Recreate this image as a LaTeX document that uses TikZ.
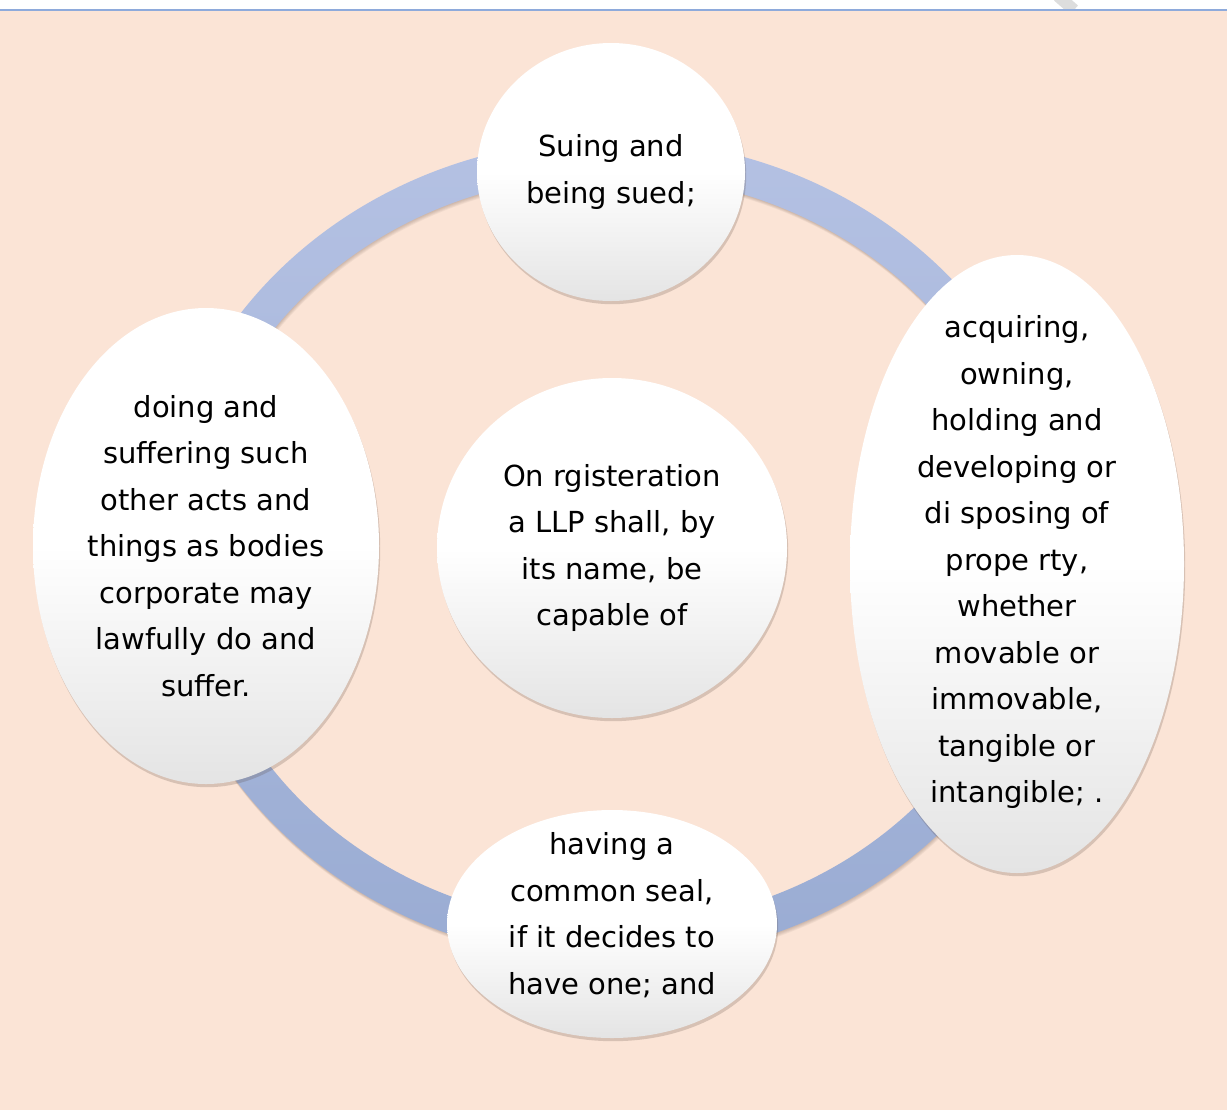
\documentclass[tikz,border=0pt]{standalone}
\usepackage{fontspec}
\setmainfont{DejaVu Sans}
\usetikzlibrary{shapes.geometric, shadows}
\definecolor{peachbg}{RGB}{251, 228, 214}
\definecolor{ringtop}{RGB}{180, 193, 227}
\definecolor{ringbottom}{RGB}{154, 172, 211}
\definecolor{topline}{RGB}{142, 170, 219}
\definecolor{cornergray}{RGB}{221, 221, 221}
\definecolor{bubblebottom}{RGB}{228, 228, 228}
\definecolor{shadowbrown}{RGB}{90, 70, 60}

\begin{document}
\begin{tikzpicture}[x=0.5pt, y=-0.5pt,
    bubble/.style={ellipse, inner sep=0pt, top color=white, bottom color=bubblebottom, middle color=white,
        drop shadow={shadow xshift=0.6pt, shadow yshift=-1.6pt, opacity=0.22, fill=shadowbrown}},
    bubbletext/.style={align=center, inner sep=0pt, font=\fontsize{14.5}{23.25}\selectfont}]
        \useasboundingbox (0, 0) rectangle (1227, 1110);

        % Page
        \fill[white] (0, 0) rectangle (1227, 10);
        \draw[cornergray, line width=6pt] (1058, -4) -- (1074, 10);
        \fill[peachbg] (0, 10) rectangle (1227, 1110);
        \draw[topline, line width=0.8pt] (0, 10) -- (1227, 10);

        % Ring
        \foreach \d in {1, 2, 3, 4, 5}
            \fill[shadowbrown, opacity=0.06, even odd rule] (611+0.3*\d, 550+0.8*\d) ellipse (453 and 411) (611+0.3*\d, 550+0.8*\d) ellipse (417 and 375);
        \shade[top color=ringtop, bottom color=ringbottom, even odd rule] (611, 550) ellipse (453 and 411) (611, 550) ellipse (417 and 375);

        % Bubbles
        \node[bubble, minimum width=175pt, minimum height=170pt] (core) at (612, 548) {};
        \node[bubble, minimum width=134pt, minimum height=129pt] (sue) at (611, 172) {};
        \node[bubble, minimum width=167pt, minimum height=309pt] (property) at (1017, 564) {};
        \node[bubble, minimum width=165pt, minimum height=114pt] (seal) at (612, 924) {};
        \node[bubble, minimum width=173pt, minimum height=238pt] (acts) at (206, 546) {};

        % Texts
        \node[bubbletext] at (core) {On rgisteration\\a LLP shall, by\\its name, be\\capable of};
        \node[bubbletext] at (sue) {Suing and\\being sued;};
        \node[bubbletext] at (1017, 562) {acquiring,\\owning,\\holding and\\developing or\\di sposing of\\prope rty,\\whether\\movable or\\immovable,\\tangible or\\intangible; .};
        \node[bubbletext] at (612, 915) {having a\\common seal,\\if it decides to\\have one; and};
        \node[bubbletext] at (acts) {doing and\\suffering such\\other acts and\\things as bodies\\corporate may\\lawfully do and\\suffer.};
\end{tikzpicture}
\end{document}
